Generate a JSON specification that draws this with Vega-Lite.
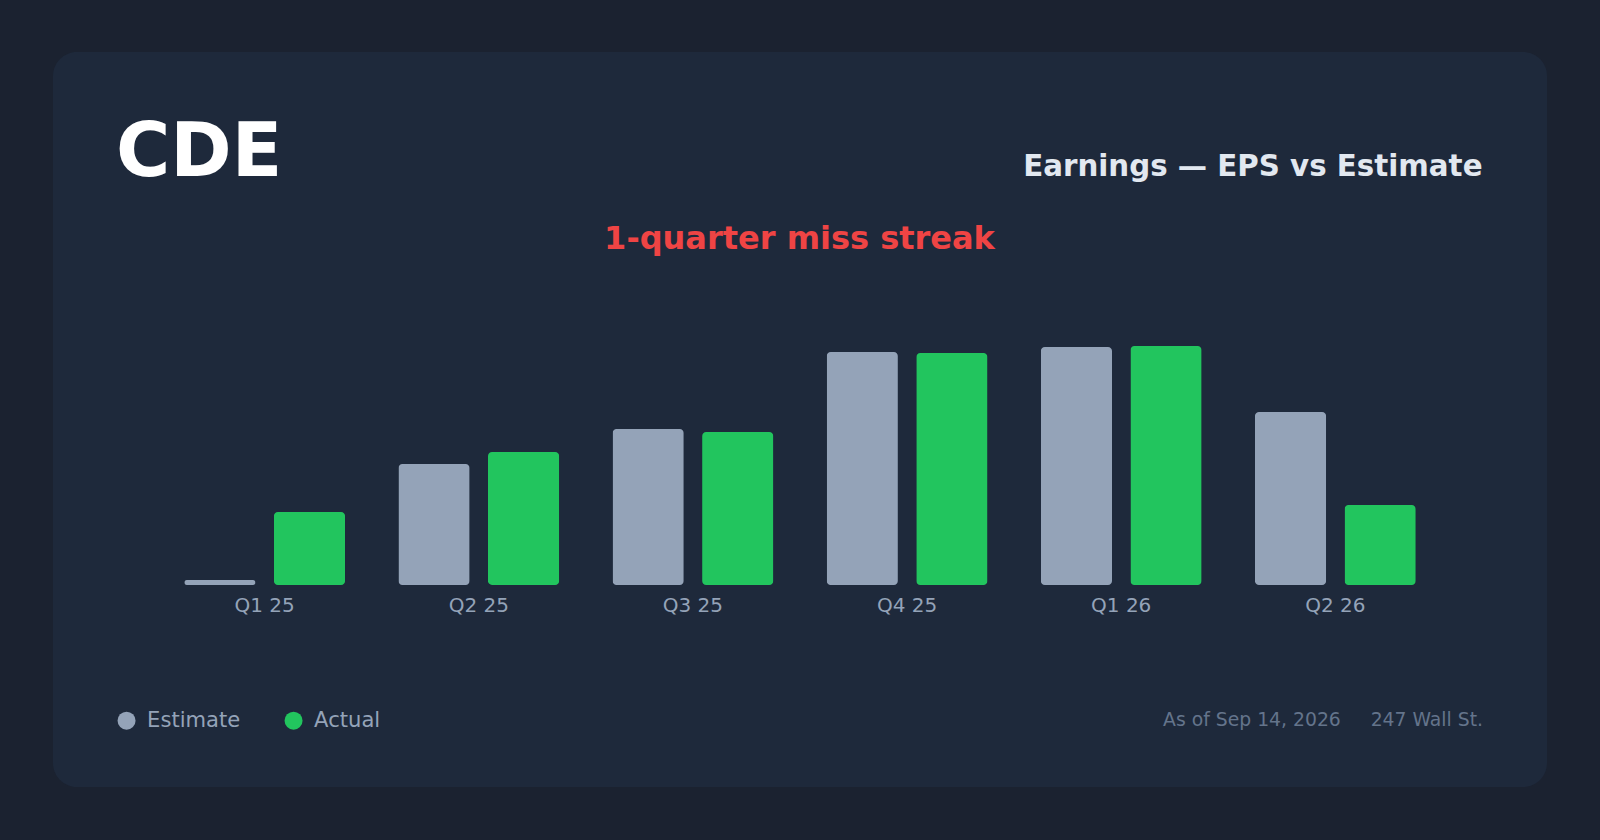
{
  "$schema": "https://vega.github.io/schema/vega-lite/v6.json",
  "width": 1494,
  "height": 735,
  "autosize": {"type": "none"},
  "padding": {"left": 53, "top": 52, "right": 53, "bottom": 53},
  "background": "#1b2230",
  "title": {
    "text": "CDE",
    "anchor": "start",
    "frame": "group",
    "orient": "top",
    "baseline": "alphabetic",
    "offset": -197.5,
    "dx": 63,
    "fontSize": 74,
    "fontWeight": "bold",
    "color": "#ffffff"
  },
  "config": {
    "font": "DejaVu Sans",
    "view": {"fill": "#1e293b", "stroke": null, "cornerRadius": 24}
  },
  "data": {
    "values": [
      {"quarter": "Q1 25", "series": "Estimate", "eps": 0.005},
      {"quarter": "Q1 25", "series": "Actual", "eps": 0.073},
      {"quarter": "Q2 25", "series": "Estimate", "eps": 0.121},
      {"quarter": "Q2 25", "series": "Actual", "eps": 0.133},
      {"quarter": "Q3 25", "series": "Estimate", "eps": 0.156},
      {"quarter": "Q3 25", "series": "Actual", "eps": 0.153},
      {"quarter": "Q4 25", "series": "Estimate", "eps": 0.233},
      {"quarter": "Q4 25", "series": "Actual", "eps": 0.232},
      {"quarter": "Q1 26", "series": "Estimate", "eps": 0.238},
      {"quarter": "Q1 26", "series": "Actual", "eps": 0.239},
      {"quarter": "Q2 26", "series": "Estimate", "eps": 0.173},
      {"quarter": "Q2 26", "series": "Actual", "eps": 0.080}
    ]
  },
  "layer": [
    {
      "mark": {"type": "bar", "cornerRadius": 4},
      "encoding": {
        "x": {
          "field": "quarter",
          "type": "nominal",
          "sort": null,
          "scale": {"paddingInner": 0.249, "paddingOuter": 0.613},
          "axis": {
            "orient": "bottom",
            "offset": -202,
            "domain": false,
            "ticks": false,
            "tickSize": 0,
            "grid": false,
            "labelAngle": 0,
            "labelFontSize": 20,
            "labelColor": "#94a3b8",
            "labelPadding": 10,
            "title": "As of Sep 14, 2026\u00a0\u00a0\u00a0\u00a0\u00a0247 Wall St.",
            "titleFontSize": 18.8,
            "titleFontWeight": "normal",
            "titleColor": "#64748b",
            "titleAlign": "right",
            "titleBaseline": "alphabetic",
            "titleX": 1429.5,
            "titleY": 140
          }
        },
        "xOffset": {
          "field": "series",
          "type": "nominal",
          "scale": {"domain": ["Estimate", "Actual"], "paddingInner": 0.205, "paddingOuter": 0}
        },
        "y": {
          "field": "eps",
          "type": "quantitative",
          "scale": {"domain": [-0.202, 0.533], "nice": false},
          "axis": {
            "orient": "left",
            "labels": false,
            "ticks": false,
            "domain": false,
            "grid": false,
            "title": "1-quarter miss streak",
            "titleColor": "#ef4444",
            "titleFontSize": 32,
            "titleFontWeight": "bold",
            "titleAngle": 0,
            "titleAlign": "center",
            "titleBaseline": "alphabetic",
            "titleX": 746,
            "titleY": 196
          }
        },
        "color": {
          "field": "series",
          "type": "nominal",
          "scale": {"domain": ["Estimate", "Actual"], "range": ["#94a3b8", "#22c55e"]},
          "legend": {
            "orient": "none",
            "legendX": 63,
            "legendY": 658,
            "direction": "horizontal",
            "title": null,
            "padding": 0,
            "symbolType": "circle",
            "symbolSize": 324,
            "symbolStrokeWidth": 0,
            "symbolOpacity": 1,
            "labelFontSize": 21.1,
            "labelColor": "#94a3b8",
            "labelOffset": 10,
            "columnPadding": 42
          }
        }
      }
    },
    {
      "mark": {"type": "rule", "opacity": 0},
      "encoding": {
        "y": {
          "datum": 0,
          "type": "quantitative",
          "axis": {
            "orient": "right",
            "labels": false,
            "ticks": false,
            "domain": false,
            "grid": false,
            "title": "Earnings — EPS vs Estimate",
            "titleColor": "#e2e8f0",
            "titleFontSize": 29.3,
            "titleFontWeight": "bold",
            "titleAngle": 0,
            "titleAlign": "right",
            "titleBaseline": "alphabetic",
            "titleX": -65,
            "titleY": 123.5
          }
        }
      }
    }
  ],
  "resolve": {"axis": {"y": "independent"}}
}
